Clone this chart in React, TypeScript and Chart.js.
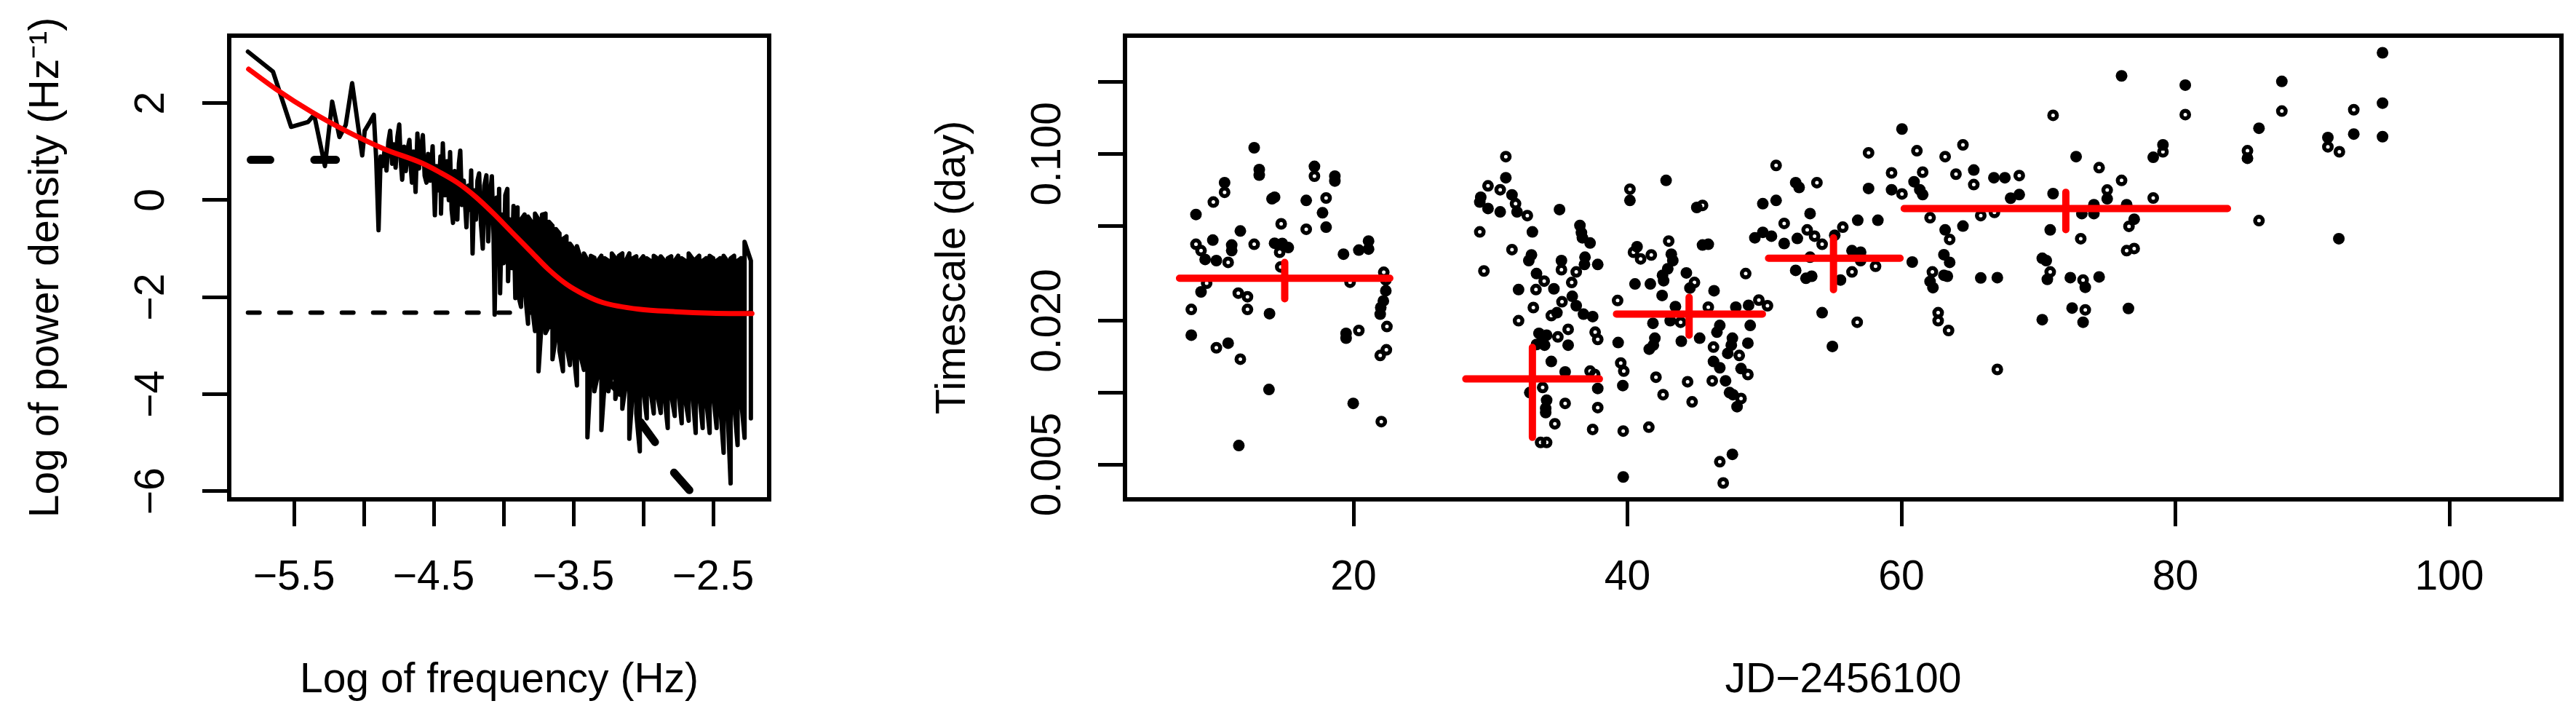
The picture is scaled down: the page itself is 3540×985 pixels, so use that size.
import React, { useEffect, useRef } from 'react';
import { Chart, registerables } from 'chart.js';

Chart.register(...registerables);

const FONT = "'Liberation Sans', Arial, Helvetica, sans-serif";
const FS = 57;

// ---------------- Left panel: power spectrum ----------------
// [log frequency, log power] vertices of the periodogram (low-frequency part)
const psdVertices: [number, number][] = [
  [-5.830, 3.06], [-5.651, 2.65], [-5.521, 1.51], [-5.400, 1.61], [-5.356, 1.76], [-5.279, 0.70],
  [-5.227, 2.03], [-5.175, 1.30], [-5.130, 1.55], [-5.084, 2.41], [-5.012, 0.92], [-4.994, 1.43],
  [-4.955, 1.62], [-4.929, 1.76], [-4.912, 0.85], [-4.895, -0.62], [-4.880, 0.90], [-4.866, 0.70],
  [-4.851, 1.05], [-4.838, 0.61], [-4.825, 1.20], [-4.812, 1.43], [-4.798, 0.75], [-4.785, 1.15],
  [-4.773, 0.67], [-4.760, 1.30], [-4.747, 1.56], [-4.736, 0.80], [-4.726, 0.42], [-4.712, 1.10],
  [-4.700, 0.60], [-4.687, 1.05], [-4.674, 1.24], [-4.665, 0.70], [-4.656, 0.36], [-4.645, 1.00],
  [-4.630, 0.17], [-4.617, 1.37], [-4.605, 0.65], [-4.590, 1.10], [-4.578, 1.34], [-4.565, 0.50],
  [-4.552, 0.36], [-4.540, 0.95], [-4.525, 0.40], [-4.508, 1.11], [-4.492, -0.31], [-4.480, 0.70],
  [-4.465, 0.20], [-4.452, 0.90], [-4.448, -0.28], [-4.435, 1.17], [-4.420, 0.10], [-4.405, 0.80],
  [-4.392, 0.00], [-4.383, 0.99], [-4.372, -0.20], [-4.362, -0.47], [-4.350, 0.60], [-4.340, 0.10],
  [-4.331, -0.40], [-4.320, 0.75], [-4.310, 1.02], [-4.298, -0.10], [-4.285, 0.40], [-4.266, -0.56],
  [-4.252, 0.30], [-4.240, -0.20], [-4.232, 0.61], [-4.222, -1.10], [-4.210, 0.20], [-4.198, -0.40],
  [-4.187, 0.40], [-4.175, 0.55], [-4.162, -0.50], [-4.149, -1.00], [-4.138, 0.30], [-4.123, 0.51],
  [-4.110, -0.85], [-4.097, 0.10], [-4.084, 0.49], [-4.072, -0.70], [-4.064, -2.36], [-4.050, 0.05],
  [-4.040, -1.20], [-4.032, 0.23], [-4.025, -1.92], [-4.012, -0.30], [-4.000, -1.30], [-3.988, 0.10],
  [-3.973, 0.23], [-3.968, -1.67], [-3.955, -0.40], [-3.942, -1.40], [-3.929, -0.12], [-3.916, -2.02],
];

// dense high-frequency part: [log frequency, upper value, lower value]
const psdBand: [number, number, number][] = [
  [-3.900, -0.15, -1.90], [-3.875, -0.40, -2.20], [-3.850, -0.30, -1.80], [-3.825, -0.34, -2.55],
  [-3.800, -0.45, -2.10], [-3.775, -0.28, -2.70], [-3.750, -0.40, -3.53], [-3.725, -0.30, -2.40],
  [-3.700, -0.28, -2.74], [-3.675, -0.45, -2.60], [-3.650, -0.53, -3.28], [-3.625, -0.60, -2.80],
  [-3.600, -0.69, -3.10], [-3.575, -0.80, -3.53], [-3.550, -0.75, -3.00], [-3.525, -0.90, -3.40],
  [-3.500, -1.00, -3.10], [-3.475, -0.95, -3.82], [-3.450, -1.19, -3.20], [-3.425, -1.10, -3.50],
  [-3.400, -1.23, -4.89], [-3.375, -1.15, -3.50], [-3.350, -1.19, -3.94], [-3.325, -1.25, -3.60],
  [-3.300, -1.15, -4.74], [-3.275, -1.20, -3.70], [-3.250, -1.25, -3.94], [-3.225, -1.10, -3.60],
  [-3.200, -1.20, -4.10], [-3.175, -1.15, -3.80], [-3.150, -1.10, -4.30], [-3.125, -1.25, -3.80],
  [-3.100, -1.10, -4.92], [-3.075, -1.20, -3.90], [-3.050, -1.16, -4.40], [-3.025, -1.25, -5.18],
  [-3.000, -1.16, -3.90], [-2.975, -1.20, -4.50], [-2.950, -1.25, -3.90], [-2.925, -1.15, -4.40],
  [-2.900, -1.20, -4.00], [-2.875, -1.16, -4.39], [-2.850, -1.25, -4.00], [-2.825, -1.20, -4.70],
  [-2.800, -1.16, -4.00], [-2.775, -1.25, -4.45], [-2.750, -1.15, -3.90], [-2.725, -1.20, -4.60],
  [-2.700, -1.25, -4.10], [-2.675, -1.10, -4.55], [-2.650, -1.20, -3.90], [-2.625, -1.22, -4.80],
  [-2.600, -1.15, -4.00], [-2.575, -1.25, -4.70], [-2.550, -1.20, -4.10], [-2.525, -1.15, -4.80],
  [-2.500, -1.20, -4.00], [-2.475, -1.25, -4.70], [-2.450, -1.20, -4.20], [-2.425, -1.15, -5.21],
  [-2.400, -1.25, -4.10], [-2.375, -1.20, -5.84], [-2.350, -1.15, -4.20], [-2.325, -1.25, -5.05],
  [-2.300, -1.20, -4.10], [-2.275, -0.86, -4.90], [-2.230, -1.25, -4.50],
];

// fitted model (red)
const fitLogFreq = [-5.825, -5.630, -5.370, -5.110, -4.851, -4.591, -4.461, -4.331, -4.201, -4.071,
  -3.942, -3.812, -3.682, -3.552, -3.422, -3.292, -3.032, -2.773, -2.513, -2.222];
const fitLogPower = [2.70, 2.29, 1.81, 1.40, 1.05, 0.77, 0.58, 0.36, 0.07, -0.28,
  -0.66, -1.04, -1.42, -1.73, -1.95, -2.11, -2.25, -2.30, -2.33, -2.34];

// noise level (dashed)
const noiseLogFreq = [-5.83, -2.23];
const noiseLevel = -2.32;

// thick short segments
const thickSegments: [number, number, number, number][] = [
  [-5.81, 0.83, -5.67, 0.83],
  [-5.355, 0.83, -5.20, 0.83],
  [-3.214, -3.82, -3.162, -3.98],
  [-3.02, -4.58, -2.916, -4.99],
  [-2.78, -5.62, -2.67, -5.98],
];

const freqTicks = [-5.5, -5.0, -4.5, -4.0, -3.5, -3.0, -2.5];
const freqTickLabels = ['\u22125.5', '', '\u22124.5', '', '\u22123.5', '', '\u22122.5'];
const powerTicks = [-6, -4, -2, 0, 2];
const powerTickLabels = ['\u22126', '\u22124', '\u22122', '0', '2'];

// ---------------- Right panel: timescales ----------------
// [JD-2456100, timescale (day)]
const filledObs: [number, number][] = [
  [12.75, 0.106], [13.12, 0.0859], [13.12, 0.0814], [17.15, 0.0886], [18.64, 0.0806], [18.64, 0.0769],
  [10.59, 0.0757], [8.50, 0.0557], [14.05, 0.0648], [14.24, 0.0658], [16.55, 0.0638], [17.74, 0.0566],
  [18.00, 0.0493], [11.74, 0.0475], [9.73, 0.0435], [11.11, 0.0415], [11.11, 0.0393], [14.24, 0.0422],
  [14.80, 0.0421], [15.24, 0.0405], [9.17, 0.0361], [9.99, 0.0357], [21.10, 0.0431], [21.10, 0.0399],
  [20.39, 0.0395], [19.27, 0.0380], [8.87, 0.0264], [22.36, 0.0267], [22.18, 0.0242], [21.99, 0.0227],
  [21.95, 0.0213], [13.87, 0.0214], [8.16, 0.0174], [10.85, 0.0161], [19.46, 0.0177], [19.46, 0.0169],
  [13.83, 0.0103], [19.98, 0.00901], [11.63, 0.00600],
  [31.12, 0.0794], [31.57, 0.0673], [29.29, 0.0658], [29.22, 0.0628], [29.82, 0.0590], [30.71, 0.0571],
  [31.94, 0.0571], [35.04, 0.0584], [33.06, 0.0471], [36.53, 0.0501], [36.64, 0.0467], [36.71, 0.0445],
  [37.27, 0.0423], [32.99, 0.0377], [32.80, 0.0357], [35.18, 0.0357], [36.90, 0.0369], [36.86, 0.0344],
  [37.83, 0.0344], [33.36, 0.0315], [32.05, 0.0270], [34.63, 0.0272], [35.97, 0.0253], [36.26, 0.0231],
  [34.85, 0.0216], [36.79, 0.0213], [37.46, 0.0208], [33.54, 0.0177], [33.81, 0.0169], [34.10, 0.0174],
  [35.67, 0.0158], [33.36, 0.0159], [33.95, 0.0158], [34.44, 0.0135], [35.45, 0.0122], [37.83, 0.0104],
  [32.87, 0.0100], [34.10, 0.00929], [34.03, 0.00859], [34.03, 0.00824], [39.69, 0.00443],
  [40.18, 0.0638], [42.82, 0.0774], [40.70, 0.0408], [43.20, 0.0380], [43.31, 0.0357], [42.94, 0.0330],
  [42.56, 0.0310], [42.64, 0.0294], [40.55, 0.0285], [41.67, 0.0285], [42.53, 0.0255], [41.86, 0.0195],
  [43.12, 0.0200], [39.32, 0.0162], [42.00, 0.0169], [41.89, 0.0158], [41.59, 0.0152], [39.66, 0.0107],
  [95.12, 0.265], [76.07, 0.212], [80.72, 0.194], [87.77, 0.201], [95.12, 0.163], [60.04, 0.127],
  [86.10, 0.128], [93.02, 0.121], [95.12, 0.118], [79.09, 0.109], [78.38, 0.0967], [85.26, 0.0958],
  [91.13, 0.117], [72.75, 0.0973], [65.28, 0.0855], [66.75, 0.0794], [67.55, 0.0794], [52.28, 0.0757],
  [52.53, 0.0723], [60.92, 0.0764], [61.34, 0.0707], [61.55, 0.0675], [57.60, 0.0716], [59.28, 0.0707],
  [75.02, 0.0648], [71.07, 0.0681], [68.60, 0.0675], [67.97, 0.0652], [45.06, 0.0596], [49.88, 0.0618],
  [50.85, 0.0638], [53.33, 0.0562], [74.05, 0.0612], [74.05, 0.0562], [76.44, 0.0612], [73.17, 0.0562],
  [56.81, 0.0527], [58.28, 0.0527], [63.19, 0.0480], [70.86, 0.0480], [76.99, 0.0532], [49.30, 0.0445],
  [49.88, 0.0469], [50.51, 0.0452], [52.40, 0.0442], [55.13, 0.0456], [64.49, 0.0498], [51.44, 0.0421],
  [91.93, 0.0441], [45.48, 0.0415], [45.90, 0.0418], [56.39, 0.0393], [57.02, 0.0387], [63.10, 0.0378],
  [63.52, 0.0351], [60.79, 0.0352], [57.02, 0.0357], [70.28, 0.0365], [70.57, 0.0357], [44.30, 0.0317],
  [52.28, 0.0325], [53.45, 0.0307], [53.03, 0.0301], [55.55, 0.0296], [63.35, 0.0307], [70.65, 0.0298],
  [65.79, 0.0302], [67.00, 0.0303], [72.33, 0.0303], [73.42, 0.0276], [74.43, 0.0305], [44.56, 0.0274],
  [46.32, 0.0267], [62.09, 0.0292], [62.30, 0.0275], [47.91, 0.0228], [48.84, 0.0232], [43.50, 0.0229],
  [54.21, 0.0216], [70.28, 0.0202], [72.46, 0.0226], [73.26, 0.0197], [76.57, 0.0225], [46.74, 0.0191],
  [48.96, 0.0191], [46.53, 0.0179], [47.66, 0.0169], [47.58, 0.0158], [43.93, 0.0164], [45.27, 0.0169],
  [48.79, 0.0161], [54.96, 0.0156], [47.32, 0.0146], [46.28, 0.0135], [46.74, 0.0127], [48.29, 0.0126],
  [47.16, 0.0112], [47.45, 0.0100], [47.70, 0.00980], [48.00, 0.00873], [47.66, 0.00551],
];

const openObs: [number, number][] = [
  [17.15, 0.0806], [10.59, 0.0690], [9.77, 0.0628], [18.00, 0.0653], [14.72, 0.0509], [16.55, 0.0483],
  [8.50, 0.0418], [8.87, 0.0393], [12.75, 0.0418], [14.61, 0.0387], [10.85, 0.0351], [14.69, 0.0336],
  [9.28, 0.0287], [11.59, 0.0261], [12.26, 0.0252], [19.75, 0.0290], [22.21, 0.0319], [22.36, 0.0296],
  [8.16, 0.0223], [12.26, 0.0223], [9.99, 0.0154], [11.74, 0.0138], [20.39, 0.0182], [22.44, 0.0189],
  [22.40, 0.0151], [21.95, 0.0143], [22.03, 0.00756],
  [31.12, 0.0973], [29.82, 0.0734], [30.71, 0.0707], [31.83, 0.0618], [32.69, 0.0551], [29.22, 0.0471],
  [31.57, 0.0397], [29.52, 0.0323], [35.18, 0.0327], [36.26, 0.0320], [33.92, 0.0293], [35.93, 0.0289],
  [33.32, 0.0270], [35.22, 0.0240], [33.13, 0.0227], [34.44, 0.0210], [32.05, 0.0200], [34.92, 0.0171],
  [35.67, 0.0184], [37.64, 0.0179], [37.83, 0.0167], [37.27, 0.0123], [37.61, 0.0119], [33.81, 0.0105],
  [35.45, 0.00901], [37.83, 0.00865], [34.70, 0.00740], [37.46, 0.00701], [33.66, 0.00618], [34.10, 0.00618],
  [39.69, 0.00690],
  [40.18, 0.0711], [43.01, 0.0431], [40.44, 0.0387], [40.96, 0.0363], [41.74, 0.0377], [39.28, 0.0243],
  [39.51, 0.0133], [39.73, 0.0123], [42.08, 0.0116], [42.60, 0.00980], [41.56, 0.00716],
  [71.07, 0.145], [80.72, 0.146], [87.77, 0.151], [93.02, 0.153], [64.49, 0.109], [57.60, 0.101],
  [61.13, 0.103], [63.19, 0.0973], [79.09, 0.102], [85.26, 0.103], [91.13, 0.107], [91.97, 0.102],
  [50.85, 0.0894], [74.43, 0.0875], [59.28, 0.0832], [61.55, 0.0838], [63.98, 0.0822], [65.28, 0.0743],
  [68.60, 0.0811], [53.83, 0.0757], [60.04, 0.0679], [76.07, 0.0774], [75.02, 0.0705], [78.38, 0.0653],
  [45.48, 0.0608], [62.09, 0.0540], [66.79, 0.0568], [65.79, 0.0551], [51.44, 0.0511], [55.72, 0.0493],
  [86.10, 0.0525], [76.61, 0.0497], [53.12, 0.0480], [53.66, 0.0452], [54.21, 0.0418], [63.52, 0.0438],
  [73.09, 0.0441], [53.33, 0.0369], [58.11, 0.0338], [76.44, 0.0393], [76.99, 0.0401], [48.63, 0.0315],
  [56.39, 0.0320], [62.26, 0.0320], [63.10, 0.0310], [70.86, 0.0320], [73.26, 0.0296], [44.89, 0.0289],
  [49.59, 0.0244], [50.22, 0.0231], [45.90, 0.0228], [56.77, 0.0197], [62.68, 0.0216], [62.68, 0.0200],
  [73.42, 0.0222], [43.88, 0.0197], [63.44, 0.0182], [46.28, 0.0155], [48.16, 0.0143], [48.79, 0.0119],
  [44.39, 0.0111], [46.19, 0.0112], [48.29, 0.00944], [44.72, 0.00914], [67.00, 0.0125], [46.74, 0.00513],
  [46.99, 0.00418],
];

// binned means (red crosses)
const binStart = [7.3, 28.2, 39.2, 50.3, 60.2];
const binEnd = [22.65, 37.95, 49.85, 59.9, 83.8];
const binCenter = [14.98, 33.06, 44.50, 55.04, 72.00];
const binScale = [0.0301, 0.0114, 0.02133, 0.03651, 0.0590];
const binScaleLow = [0.0247, 0.00649, 0.01738, 0.02695, 0.0481];
const binScaleHigh = [0.0351, 0.01545, 0.02506, 0.04446, 0.0690];

const jdTicks = [20, 40, 60, 80, 100];
const scaleTicks = [0.005, 0.01, 0.02, 0.05, 0.1, 0.2];
const scaleTickLabels = ['0.005', '', '0.020', '', '0.100', ''];

// ---------------- helpers ----------------
const boxPlugin = {
  id: 'rbox',
  afterDatasetsDraw(chart: any) {
    const { ctx, chartArea: a } = chart;
    ctx.save();
    ctx.lineWidth = 6;
    ctx.strokeStyle = '#000';
    ctx.strokeRect(a.left, a.top, a.right - a.left, a.bottom - a.top);
    ctx.restore();
  },
};

const fixHeight = (h: number) => (scale: any) => {
  scale.height = h;
  scale.paddingLeft = 0;
  scale.paddingRight = 0;
};
const fixWidth = (w: number) => (scale: any) => {
  scale.width = w;
  scale.paddingTop = 0;
  scale.paddingBottom = 0;
};
const setTicks = (vals: number[]) => (scale: any) => {
  scale.ticks = vals.map((v) => ({ value: v }));
};

const tickGrid = {
  display: true,
  drawOnChartArea: false,
  drawTicks: true,
  tickLength: 37,
  tickWidth: 5,
  tickColor: '#000',
  color: '#000',
  lineWidth: 5,
};

export default function App() {
  const leftRef = useRef<HTMLCanvasElement | null>(null);
  const rightRef = useRef<HTMLCanvasElement | null>(null);

  useEffect(() => {
    Chart.defaults.font.family = FONT;
    Chart.defaults.color = '#000';

    // ----- left chart -----
    const psdPoints: { x: number; y: number }[] = psdVertices.map(([x, y]) => ({ x, y }));
    psdBand.forEach(([x, hi, lo], i) => {
      if (i % 2 === 0) psdPoints.push({ x, y: hi }, { x, y: lo });
      else psdPoints.push({ x, y: lo }, { x, y: hi });
    });
    const thickPoints: { x: number; y: number | null }[] = [];
    thickSegments.forEach(([x1, y1, x2, y2]) => {
      thickPoints.push({ x: x1, y: y1 }, { x: x2, y: y2 }, { x: x2, y: null });
    });

    const left = new Chart(leftRef.current as HTMLCanvasElement, {
      type: 'line',
      data: {
        datasets: [
          {
            data: fitLogFreq.map((x, i) => ({ x, y: fitLogPower[i] })),
            borderColor: '#ff0000',
            borderWidth: 7,
            pointRadius: 0,
            cubicInterpolationMode: 'monotone',
            borderCapStyle: 'round',
            borderJoinStyle: 'round',
            order: 0,
          },
          {
            data: thickPoints,
            borderColor: '#000',
            borderWidth: 11,
            pointRadius: 0,
            spanGaps: false,
            borderCapStyle: 'round',
            order: 1,
          },
          {
            data: psdPoints,
            borderColor: '#000',
            borderWidth: 6,
            pointRadius: 0,
            borderCapStyle: 'round',
            borderJoinStyle: 'round',
            order: 2,
          },
          {
            data: noiseLogFreq.map((x) => ({ x, y: noiseLevel })),
            borderColor: '#000',
            borderWidth: 6,
            borderDash: [16, 27],
            borderCapStyle: 'round',
            pointRadius: 0,
            order: 3,
          },
        ] as any,
      },
      options: {
        animation: false,
        responsive: false,
        maintainAspectRatio: false,
        devicePixelRatio: 1,
        events: [],
        layout: { padding: { left: 0, right: 43, top: 49, bottom: 0 } },
        plugins: { legend: { display: false }, tooltip: { enabled: false } },
        scales: {
          x: {
            type: 'linear',
            min: -5.964,
            max: -2.099,
            bounds: 'data',
            afterBuildTicks: setTicks(freqTicks),
            afterFit: fixHeight(299),
            grid: tickGrid,
            border: { display: false },
            ticks: {
              autoSkip: false,
              maxRotation: 0,
              minRotation: 0,
              padding: 37,
              font: { size: FS },
              color: '#000',
              callback: (_v: any, i: number) => freqTickLabels[i],
            },
            title: {
              display: true,
              text: 'Log of frequency (Hz)',
              font: { size: FS },
              color: '#000',
              padding: { top: 0, bottom: 16 },
            },
          },
          y: {
            type: 'linear',
            min: -6.17,
            max: 3.39,
            bounds: 'data',
            afterBuildTicks: setTicks(powerTicks),
            afterFit: fixWidth(315),
            grid: tickGrid,
            border: { display: false },
            ticks: {
              autoSkip: false,
              minRotation: 90,
              maxRotation: 90,
              crossAlign: 'center',
              padding: 36,
              font: { size: FS },
              color: '#000',
              callback: (_v: any, i: number) => powerTickLabels[i],
            },
            title: {
              display: true,
              text: 'Log of power density (Hz\u207B\u00B9)',
              font: { size: FS },
              color: '#000',
              padding: { top: 30, bottom: 0 },
            },
          },
        },
      } as any,
      plugins: [boxPlugin],
    });

    // ----- right chart -----
    const barPoints: { x: number; y: number | null }[] = [];
    binCenter.forEach((c, i) => {
      barPoints.push(
        { x: binStart[i], y: binScale[i] },
        { x: binEnd[i], y: binScale[i] },
        { x: binEnd[i], y: null },
        { x: c, y: binScaleLow[i] },
        { x: c, y: binScaleHigh[i] },
        { x: c, y: null },
      );
    });

    const right = new Chart(rightRef.current as HTMLCanvasElement, {
      type: 'line',
      data: {
        datasets: [
          {
            data: barPoints,
            borderColor: '#ff0000',
            borderWidth: 10,
            pointRadius: 0,
            spanGaps: false,
            borderCapStyle: 'round',
            order: 0,
          },
          {
            data: filledObs.map(([x, y]) => ({ x, y })),
            showLine: false,
            pointRadius: 8,
            pointBorderWidth: 0,
            pointBackgroundColor: '#000',
            pointBorderColor: '#000',
            order: 1,
          },
          {
            data: openObs.map(([x, y]) => ({ x, y })),
            showLine: false,
            pointRadius: 5.25,
            pointBorderWidth: 5.5,
            pointBackgroundColor: 'rgba(0,0,0,0)',
            pointBorderColor: '#000',
            order: 2,
          },
        ] as any,
      },
      options: {
        animation: false,
        responsive: false,
        maintainAspectRatio: false,
        devicePixelRatio: 1,
        events: [],
        layout: { padding: { left: 0, right: 20, top: 49, bottom: 0 } },
        plugins: { legend: { display: false }, tooltip: { enabled: false } },
        scales: {
          x: {
            type: 'linear',
            min: 3.32,
            max: 108.18,
            bounds: 'data',
            afterBuildTicks: setTicks(jdTicks),
            afterFit: fixHeight(299),
            grid: tickGrid,
            border: { display: false },
            ticks: {
              autoSkip: false,
              maxRotation: 0,
              minRotation: 0,
              padding: 37,
              font: { size: FS },
              color: '#000',
              callback: (v: any) => String(v),
            },
            title: {
              display: true,
              text: 'JD\u22122456100',
              font: { size: FS },
              color: '#000',
              padding: { top: 0, bottom: 16 },
            },
          },
          y: {
            type: 'logarithmic',
            min: 0.00357,
            max: 0.3125,
            bounds: 'data',
            afterBuildTicks: setTicks(scaleTicks),
            afterFit: fixWidth(446),
            grid: tickGrid,
            border: { display: false },
            ticks: {
              autoSkip: false,
              minRotation: 90,
              maxRotation: 90,
              crossAlign: 'center',
              padding: -4,
              font: { size: FS },
              color: '#000',
              callback: (_v: any, i: number) => scaleTickLabels[i],
            },
            title: {
              display: true,
              text: 'Timescale (day)',
              font: { size: FS },
              color: '#000',
              padding: { top: 176, bottom: 0 },
            },
          },
        },
      } as any,
      plugins: [boxPlugin],
    });

    return () => {
      left.destroy();
      right.destroy();
    };
  }, []);

  return (
    <div style={{ position: 'fixed', left: 0, top: 0, width: 3540, height: 985, background: '#fff', overflow: 'hidden' }}>
      <canvas
        ref={leftRef}
        width={1100}
        height={985}
        style={{ position: 'absolute', left: 0, top: 0, width: 1100, height: 985 }}
      />
      <canvas
        ref={rightRef}
        width={2440}
        height={985}
        style={{ position: 'absolute', left: 1100, top: 0, width: 2440, height: 985 }}
      />
    </div>
  );
}
